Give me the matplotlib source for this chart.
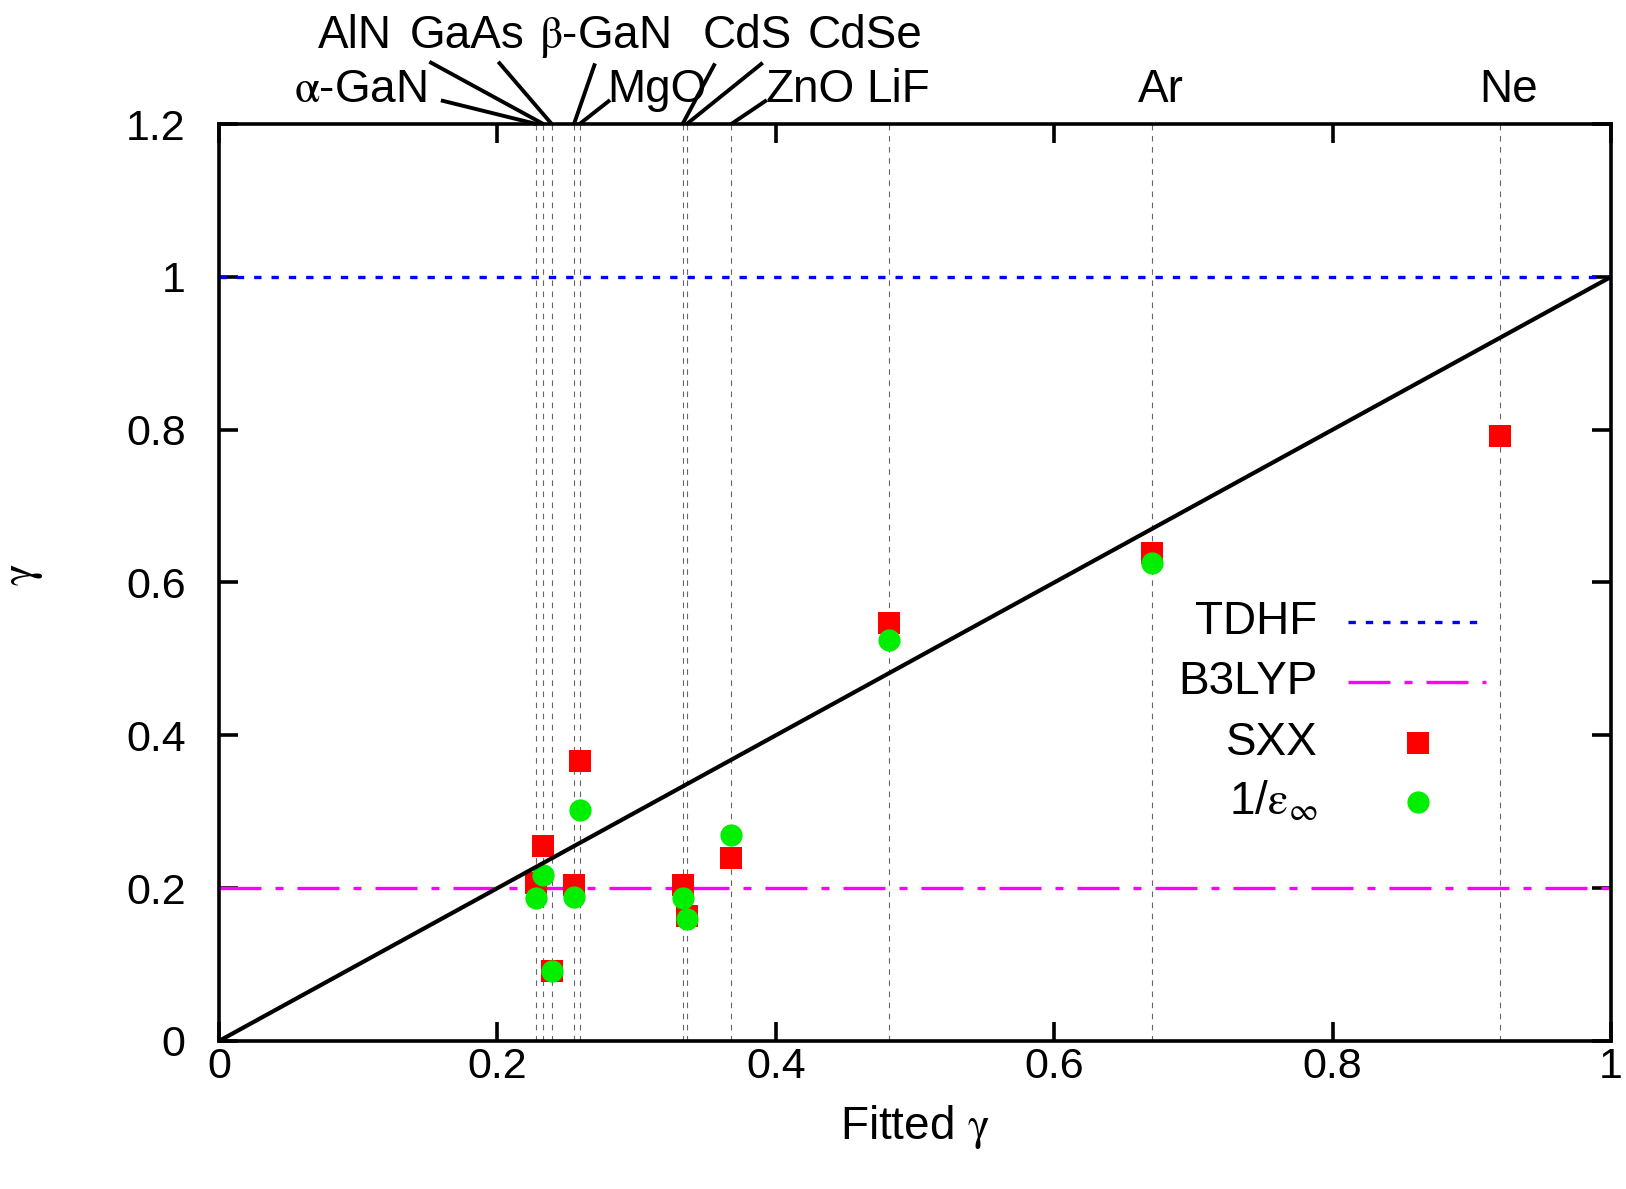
import matplotlib
matplotlib.use("Agg")
import matplotlib.pyplot as plt

plt.rcParams["font.family"] = ["Liberation Sans", "DejaVu Sans"]
plt.rcParams["mathtext.fontset"] = "stix"

# materials, their fitted gamma and the two estimates
materials = ["$\\mathrm{\\alpha}$-GaN", "AlN", "GaAs", "$\\mathrm{\\beta}$-GaN", "MgO",
             "CdS", "CdSe", "ZnO", "LiF", "Ar", "Ne"]
fitted_gamma = [0.228, 0.233, 0.239, 0.255, 0.259, 0.333, 0.336, 0.368,
                0.481, 0.670, 0.920]
sxx_gamma = [0.207, 0.255, 0.091, 0.204, 0.366, 0.204, 0.163, 0.239,
             0.547, 0.638, 0.792]
inv_eps_gamma = [0.187, 0.217, 0.092, 0.189, 0.302, 0.187, 0.160, 0.270,
                 0.525, 0.625, None]
tdhf_gamma = 1.0
b3lyp_gamma = 0.2

x_ticks = [0, 0.2, 0.4, 0.6, 0.8, 1]
x_tick_labels = ["0", "0.2", "0.4", "0.6", "0.8", "1"]
y_ticks = [0, 0.2, 0.4, 0.6, 0.8, 1, 1.2]
y_tick_labels = ["0", "0.2", "0.4", "0.6", "0.8", "1", "1.2"]

# where the material names sit above the frame: (x centre, row 0 = lower / 1 = upper)
label_pos = [(0.1013, 0), (0.0977, 1), (0.1782, 1), (0.2766, 1), (0.3147, 0),
             (0.3793, 1), (0.4641, 1), (0.4246, 0), (0.4878, 0), (0.6767, 0),
             (0.9267, 0)]
row_y = [1.024, 1.0829]
# start of the leader line for crowded names (x data, y axes fraction)
leader_start = [(0.1594, 1.0258), (0.1511, 1.0679), (0.2006, 1.0679),
                (0.2701, 1.0661), (0.2809, 1.0261), (0.3563, 1.0661),
                (0.3906, 1.0668), (0.3935, 1.0261), None, None, None]

fig = plt.figure(figsize=(16.26, 11.89), dpi=100)
ax = fig.add_axes([0.1347, 0.1245, 0.8561, 0.7712])

for x in fitted_gamma:
    ax.axvline(x, color="0.4", lw=0.8, linestyle=(0, (5, 5)), zorder=1)

ax.axhline(tdhf_gamma, color="#0000ff", lw=2.4, linestyle=(0, (2.2, 3.0)), zorder=2)
ax.axhline(b3lyp_gamma, color="#ff00ff", lw=2.4,
           linestyle=(0, (12.6, 4.2, 2.4, 4.2)), zorder=2)
ax.plot([0, 1], [0, 1], color="black", lw=3.0, zorder=4)

ax.plot(fitted_gamma, sxx_gamma, "s", color="#ff0000", ms=16, mew=0, zorder=3)
eps_x = [x for x, v in zip(fitted_gamma, inv_eps_gamma) if v is not None]
eps_y = [v for v in inv_eps_gamma if v is not None]
ax.plot(eps_x, eps_y, "o", color="#00ee00", ms=16, mew=0, zorder=3)

ax.set_xlim(0, 1)
ax.set_ylim(0, 1.2)
ax.set_xticks(x_ticks)
ax.set_xticklabels(x_tick_labels)
ax.set_yticks(y_ticks)
ax.set_yticklabels(y_tick_labels)
ax.tick_params(direction="in", top=True, right=True, length=14, width=2.6,
               labelsize=31)
ax.tick_params(axis="x", pad=4)
ax.tick_params(axis="y", pad=24)
for sp in ax.spines.values():
    sp.set_linewidth(2.6)

ax.set_xlabel("Fitted $\\mathrm{\\gamma}$", fontsize=33, labelpad=12)
fig.text(23 / 1626, 1 - 575 / 1189, "$\\mathrm{\\gamma}$", fontsize=33, rotation=90,
         ha="center", va="center")

# material names along the top, with leader lines
trans = ax.get_xaxis_transform()
for name, x, (tx, row), start in zip(materials, fitted_gamma, label_pos, leader_start):
    ax.text(tx, row_y[row], name, transform=trans, fontsize=33,
            ha="center", va="baseline")
    if start is not None:
        ax.plot([start[0], x], [start[1], 1.0], color="black", lw=2.8,
                transform=trans, clip_on=False, solid_capstyle="butt")

# key
key_text_x = 0.789
key_rows = [0.457, 0.3915, 0.325, 0.2606]
ax.text(key_text_x, key_rows[0], "TDHF", transform=ax.transAxes, fontsize=33,
        ha="right", va="center")
ax.plot([0.811, 0.904], [key_rows[0]] * 2, color="#0000ff", lw=2.4,
        linestyle=(0, (2.2, 3.0)), transform=ax.transAxes)
ax.text(key_text_x, key_rows[1], "B3LYP", transform=ax.transAxes, fontsize=33,
        ha="right", va="center")
ax.plot([0.811, 0.910], [key_rows[1]] * 2, color="#ff00ff", lw=2.4,
        linestyle=(0, (12.6, 4.2, 2.4, 4.2)), transform=ax.transAxes)
ax.text(key_text_x, key_rows[2], "SXX", transform=ax.transAxes, fontsize=33,
        ha="right", va="center")
ax.plot([0.861], [key_rows[2]], "s", color="#ff0000", ms=16, mew=0,
        transform=ax.transAxes)
ax.text(key_text_x, key_rows[3], "1/$\\mathrm{\\varepsilon}_{\\infty}$",
        transform=ax.transAxes, fontsize=33, ha="right", va="center")
ax.plot([0.861], [key_rows[3]], "o", color="#00ee00", ms=16, mew=0,
        transform=ax.transAxes)

fig.savefig("out.png", dpi=100)
